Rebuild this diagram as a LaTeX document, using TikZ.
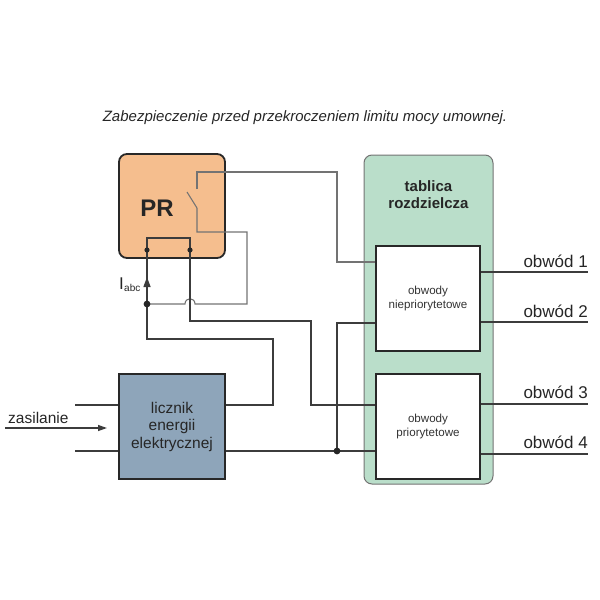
\documentclass[tikz,border=0pt]{standalone}
\usepackage{fontspec}
\setmainfont{Liberation Sans}
\usetikzlibrary{arrows.meta,calc}
\definecolor{prfill}{RGB}{245,190,142}
\definecolor{lizfill}{RGB}{142,165,186}
\definecolor{tabfill}{RGB}{186,222,202}
\definecolor{wirec}{RGB}{60,60,60}
\definecolor{swirec}{RGB}{115,115,115}
\definecolor{boxc}{RGB}{40,40,40}
\begin{document}
\begin{tikzpicture}[x=1pt,y=-1pt,
  wire/.style={draw=wirec, line width=1.3pt},
  swire/.style={draw=swirec, line width=1.1pt},
  blockbox/.style={draw=boxc, line width=1.8pt, inner sep=0pt, align=center},
  jdot/.style={fill=black!85},
  outlabel/.style={anchor=base east, font=\fontsize{17}{17}\selectfont, inner sep=0pt}
]
\useasboundingbox (0,0) rectangle (600,600);

% title
\node[font=\itshape\fontsize{15}{15}\selectfont, text=black!85] (title) at (305,118) {Zabezpieczenie przed przekroczeniem limitu mocy umownej.};

% tablica
\node[blockbox, rounded corners=8pt, line width=1pt, draw=black!55, fill=tabfill, minimum width=129pt, minimum height=329pt] (tab) at (428.5,319.5) {};
\node[font=\bfseries\fontsize{15}{17}\selectfont, align=center, text=black!85] (tabl) at (428.5,195) {tablica\\rozdzielcza};
\node[blockbox, fill=white, minimum width=104pt, minimum height=105pt, font=\fontsize{11.6}{14}\selectfont, text=black!80] (b1) at (428,298.5) {obwody\\niepriorytetowe};
\node[blockbox, fill=white, minimum width=104pt, minimum height=105pt, font=\fontsize{11.6}{14}\selectfont, text=black!80] (b2) at (428,426.5) {obwody\\priorytetowe};

% PR
\node[blockbox, rounded corners=8pt, fill=prfill, minimum width=106pt, minimum height=104pt] (pr) at (172,206) {};
\node[font=\bfseries\fontsize{24}{24}\selectfont, text=black!85] (prl) at (157,208) {PR};

% licznik
\node[blockbox, fill=lizfill, minimum width=106pt, minimum height=105pt, font=\fontsize{15.5}{17.5}\selectfont, text=black!85] (liz) at (172,426.5) {licznik\\energii\\elektrycznej};

% coordinates
\coordinate (tL) at (147,250);
\coordinate (tR) at (190,250);
\coordinate (jI) at (147,304);
\coordinate (j4) at (337,451);
\coordinate (sTop) at (197,172);
\coordinate (sBot) at (197,208);
\coordinate (inA) at (75,405);
\coordinate (inB) at (75,451);
\coordinate (arA) at (5,428);
\coordinate (arB) at (107,428);
\coordinate (o1) at (588,272);
\coordinate (o2) at (588,322);
\coordinate (o3) at (588,404);
\coordinate (o4) at (588,454);

% PR inner contact
\draw[wire] (tL) -- (147,238) -- (190,238) -- (tR);

% switch
\draw[swire] (197,189) -- (sTop) -- (337,172) -- (337,262) -- (b1.west |- 337,262);
\draw[swire] (187,192) -- (sBot);
\draw[swire] (sBot) -- (197,232) -- (247,232) -- (247,304) -- (195,304)
  .. controls (195,297) and (185,297) .. (185,304) -- (jI);

% wires
\draw[wire] (tL) -- (jI) -- (147,339) -- (273,339) -- (273,405) -- (liz.east |- 273,405);
\draw[wire] (tR) -- (190,321) -- (311,321) -- (311,405) -- (b2.west |- 311,405);
\draw[wire] (liz.east |- j4) -- (j4) -- (b2.west |- j4);
\draw[wire] (j4) -- (337,323) -- (b1.west |- 337,323);

% arrow Iabc
\draw[wire, -{Triangle[length=10pt,width=7pt]}] (147,290) -- (147,277);
\node[anchor=base west, inner sep=0pt, font=\fontsize{17}{17}\selectfont, text=black!85] (iabc) at (119,289) {I\kern0.3pt\raisebox{-2pt}{\fontsize{10}{10}\selectfont abc}};

% dots
\fill[jdot] (tL) circle (2.6pt);
\fill[jdot] (tR) circle (2.6pt);
\fill[jdot] (jI) circle (3.4pt);
\fill[jdot] (j4) circle (3.4pt);

% inputs
\draw[wire] (inA) -- (liz.west |- inA);
\draw[wire] (inB) -- (liz.west |- inB);
\draw[wire, -{Triangle[length=9pt,width=6pt]}] (arA) -- (arB);
\node[anchor=base west, inner sep=0pt, font=\fontsize{15.5}{15.5}\selectfont, text=black!85] (zas) at (8,423) {zasilanie};

% outputs
\draw[wire] (b1.east |- o1) -- (o1);
\draw[wire] (b1.east |- o2) -- (o2);
\draw[wire] (b2.east |- o3) -- (o3);
\draw[wire] (b2.east |- o4) -- (o4);
\node[outlabel, text=black!85] (l1) at (588,267) {obwód 1};
\node[outlabel, text=black!85] (l2) at (588,317) {obwód 2};
\node[outlabel, text=black!85] (l3) at (588,398) {obwód 3};
\node[outlabel, text=black!85] (l4) at (588,448) {obwód 4};
\end{tikzpicture}
\end{document}
